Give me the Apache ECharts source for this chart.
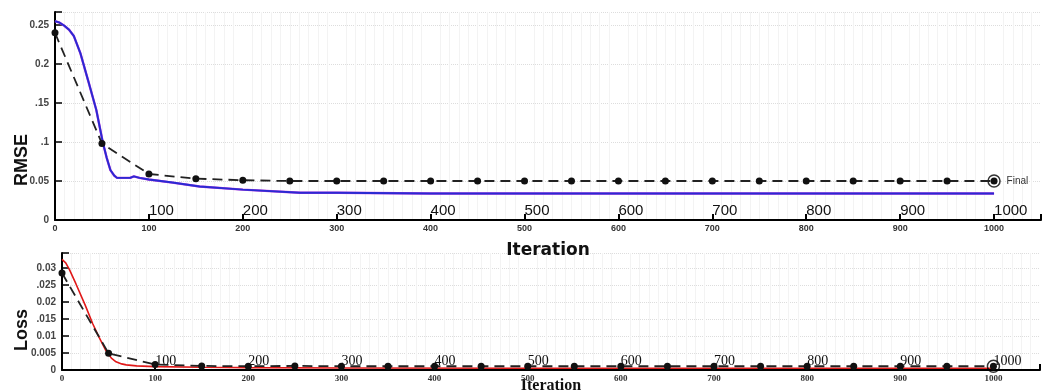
<!DOCTYPE html>
<html>
<head>
<meta charset="utf-8">
<script src="https://cdn.jsdelivr.net/npm/echarts@6/dist/echarts.min.js"></script>
</head>
<body style="margin:0">
<div id="container" style="width:1044px;height:390px;"></div>
<script>
// checkpoints (dashed curves, every 50 iterations)
var ckptIters = [0,50,100,150,200,250,300,350,400,450,500,550,600,650,700,750,800,850,900,950,1000];
var rmseCkpt = [0.240,0.098,0.059,0.053,0.051,0.050,0.050,0.050,0.050,0.050,0.050,0.050,0.050,0.050,0.050,0.050,0.050,0.050,0.050,0.050,0.050];
var lossCkpt = [0.0285,0.0049,0.0016,0.0012,0.0011,0.0012,0.0011,0.0011,0.0011,0.0011,0.0011,0.0011,0.0011,0.0011,0.0011,0.0011,0.0011,0.0011,0.0011,0.0011,0.0011];

// continuous curves
var rmseIters = [0,5,10,15,20,27,35,44,51,55,59,63,66,70,80,84,90,100,125,154,200,261,300,400,500,600,700,800,900,1000];
var rmseCurve = [0.255,0.253,0.249,0.244,0.236,0.214,0.180,0.141,0.099,0.080,0.064,0.057,0.054,0.054,0.054,0.056,0.054,0.052,0.048,0.043,0.039,0.035,0.035,0.034,0.034,0.034,0.034,0.034,0.034,0.034];
var lossIters = [0,4,8,15,25,33,40,47,53,58,64,69,80,100,150,200,300,500,1000];
var lossCurve = [0.0325,0.0315,0.0295,0.0253,0.019,0.0136,0.0095,0.0058,0.0035,0.0024,0.0018,0.0015,0.0012,0.001,0.0008,0.0007,0.0006,0.0005,0.0005];

var rmseLabels = {'0':'0','0.05':'0.05','0.1':'.1','0.15':'.15','0.2':'0.2','0.25':'0.25'};
var lossLabels = {'0':'0','0.005':'0.005','0.01':'0.01','0.015':'.015','0.02':'0.02','0.025':'.025','0.03':'0.03'};

function zip(xs, ys) {
  return xs.map(function (x, i) { return [x, ys[i]]; });
}

var dom = document.getElementById('container');
var myChart = echarts.init(dom);

var axisBlack = { lineStyle: { color: '#000', width: 2 } };

function mainX(gi, fontFamily) {
  return {
    type: 'value', gridIndex: gi, min: 0, max: 1050, interval: 100,
    axisLine: axisBlack,
    axisTick: { inside: true, length: 6, lineStyle: { color: '#000', width: 2 } },
    axisLabel: {
      fontSize: 9, fontWeight: 'bold', color: '#333', margin: 4, fontFamily: fontFamily,
      formatter: function (v) { return v <= 1000 ? String(v) : ''; }
    },
    splitLine: { show: false },
    minorTick: { show: false, splitNumber: 10 },
    minorSplitLine: { show: true, lineStyle: { color: '#f3f3f3', width: 1 } }
  };
}

function insideX(gi, fontFamily, size) {
  return {
    type: 'value', gridIndex: gi, min: 0, max: 1050, interval: 100, position: 'bottom',
    axisLine: { show: false }, axisTick: { show: false }, splitLine: { show: false },
    axisLabel: {
      inside: true, margin: 2, fontSize: size, color: '#111', fontFamily: fontFamily,
      align: 'left',
      formatter: function (v) { return (v > 0 && v <= 1000) ? String(v) : ''; }
    }
  };
}

function yAxis(gi, max, interval, labels) {
  return {
    type: 'value', gridIndex: gi, min: 0, max: max, interval: interval,
    axisLine: { show: true, lineStyle: { color: '#000', width: 2 } },
    axisTick: { show: true, inside: true, length: 7, lineStyle: { color: '#000', width: 1.5 } },
    axisLabel: {
      fontSize: 10, fontWeight: 'bold', color: '#444', margin: 6,
      formatter: function (v) {
        var k = String(+v.toFixed(4));
        return labels[k] !== undefined ? labels[k] : '';
      }
    },
    splitLine: { show: true, lineStyle: { color: '#ddd', type: 'dotted', width: 1 } }
  };
}

function ckptSeries(xi, yi, xs, ys, label) {
  return {
    type: 'line', xAxisIndex: xi, yAxisIndex: yi, data: zip(xs, ys),
    symbol: 'circle', symbolSize: 7, z: 5,
    itemStyle: { color: '#111' },
    lineStyle: { color: '#222', width: 1.8, type: [10, 6] },
    label: {
      show: !!label, position: 'right', distance: 9, fontSize: 10, color: '#333',
      formatter: function (p) { return p.dataIndex === xs.length - 1 ? label : ''; }
    }
  };
}

function endRing(xi, yi, xs, ys) {
  var n = xs.length - 1;
  return {
    type: 'scatter', xAxisIndex: xi, yAxisIndex: yi, data: [[xs[n], ys[n]]],
    symbol: 'circle', symbolSize: 12, z: 4, silent: true,
    itemStyle: { color: 'rgba(255,255,255,0)', borderColor: '#000', borderWidth: 1.5 }
  };
}

option = {
  animation: false,
  backgroundColor: '#fff',
  grid: [
    { left: 55, right: 3, top: 12, height: 208, outerBoundsMode: 'none', containLabel: false },
    { left: 62, right: 4, top: 253, height: 117, outerBoundsMode: 'none', containLabel: false }
  ],
  xAxis: [
    Object.assign(mainX(0, 'Liberation Sans'), {
      name: 'Iteration', nameLocation: 'middle', nameGap: 22, nameMoveOverlap: false,
      nameTextStyle: { fontSize: 17, fontWeight: 'bold', color: '#111', fontFamily: 'DejaVu Sans' }
    }),
    insideX(0, 'Liberation Sans', 15),
    Object.assign(mainX(1, 'Liberation Serif'), {
      name: 'Iteration', nameLocation: 'middle', nameGap: 8, nameMoveOverlap: false,
      nameTextStyle: { fontSize: 16, fontWeight: 'bold', color: '#111', fontFamily: 'Liberation Serif' }
    }),
    insideX(1, 'Liberation Serif', 14)
  ],
  yAxis: [
    yAxis(0, 0.2667, 0.05, rmseLabels),
    yAxis(1, 0.0344, 0.005, lossLabels)
  ],
  graphic: [
    { type: 'text', x: 22, y: 160, rotation: Math.PI / 2,
      style: { text: 'RMSE', fontSize: 18, fontWeight: 'bold', fill: '#111', fontFamily: 'Liberation Sans Narrow, Liberation Sans', align: 'center', verticalAlign: 'middle' } },
    { type: 'text', x: 22, y: 330, rotation: Math.PI / 2,
      style: { text: 'Loss', fontSize: 18, fontWeight: 'bold', fill: '#111', fontFamily: 'Liberation Sans Narrow, Liberation Sans', align: 'center', verticalAlign: 'middle' } }
  ],
  series: [
    { type: 'line', xAxisIndex: 0, yAxisIndex: 0, data: zip(rmseIters, rmseCurve),
      showSymbol: false, lineStyle: { color: '#c040e0', width: 2.4 }, z: 2 },
    { type: 'line', xAxisIndex: 0, yAxisIndex: 0, data: zip(rmseIters, rmseCurve),
      showSymbol: false, lineStyle: { color: '#2a2ad2', width: 1.9 }, z: 3 },
    ckptSeries(0, 0, ckptIters, rmseCkpt, 'Final'),
    endRing(0, 0, ckptIters, rmseCkpt),
    { type: 'line', xAxisIndex: 2, yAxisIndex: 1, data: zip(lossIters, lossCurve),
      showSymbol: false, lineStyle: { color: '#e01818', width: 1.6 }, z: 3 },
    ckptSeries(2, 1, ckptIters, lossCkpt, ''),
    endRing(2, 1, ckptIters, lossCkpt)
  ]
};

if (option && typeof option === "object") {
  myChart.setOption(option, true);
}
</script>
</body>
</html>
